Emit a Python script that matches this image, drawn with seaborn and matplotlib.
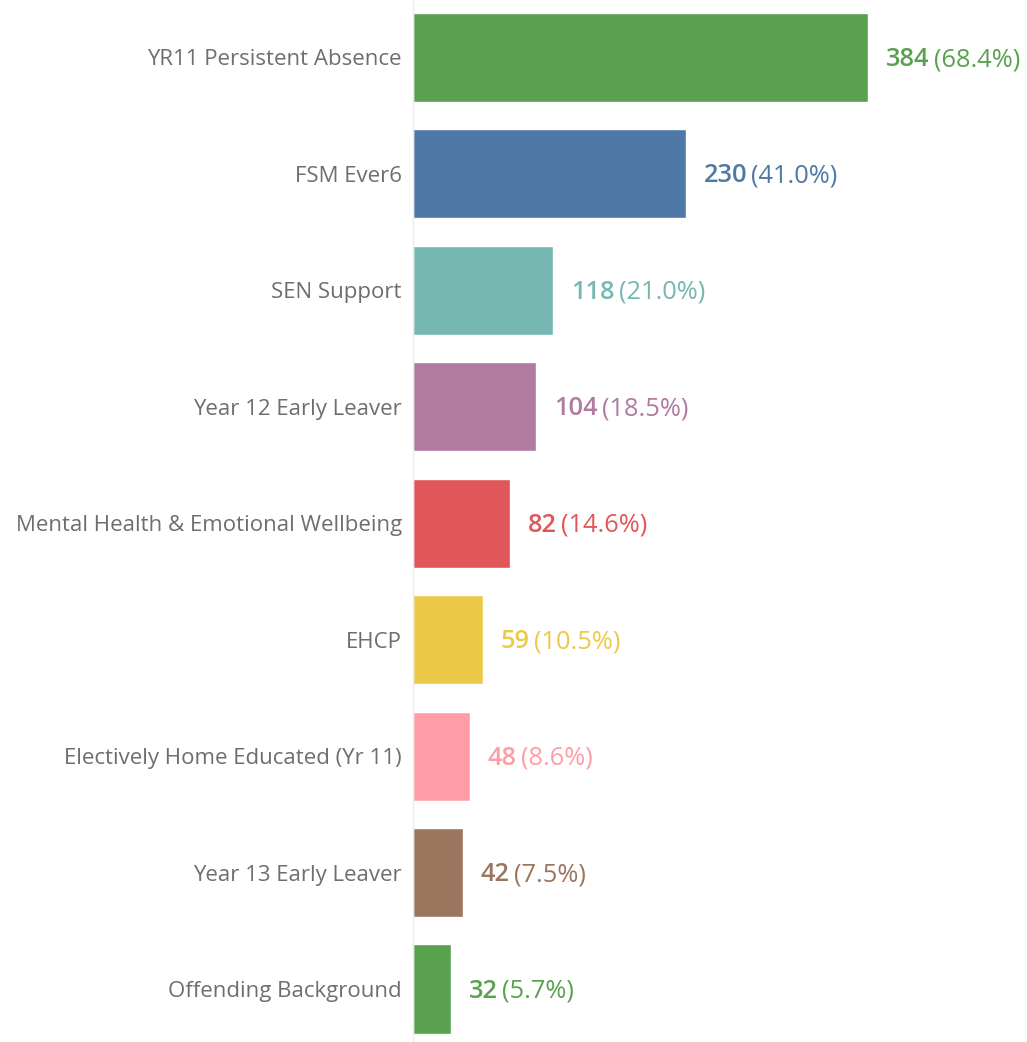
import matplotlib
matplotlib.use('Agg')
import matplotlib.pyplot as plt
import seaborn as sns
import pandas as pd

# values
categories = ['YR11 Persistent Absence', 'FSM Ever6', 'SEN Support',
              'Year 12 Early Leaver', 'Mental Health & Emotional Wellbeing',
              'EHCP', 'Electively Home Educated (Yr 11)',
              'Year 13 Early Leaver', 'Offending Background']
counts = [384, 230, 118, 104, 82, 59, 48, 42, 32]
pcts = [68.4, 41.0, 21.0, 18.5, 14.6, 10.5, 8.6, 7.5, 5.7]
colors = ['#59A14F', '#4E79A7', '#76B7B2', '#B07AA1', '#E15759',
          '#EDC948', '#FF9DA7', '#9C755F', '#59A14F']

df = pd.DataFrame({'category': categories, 'count': counts})

sns.set_style('white')
plt.rcParams['font.family'] = ['Open Sans', 'DejaVu Sans']

fig = plt.figure(figsize=(10.27, 10.42), dpi=100)
ax = fig.add_axes([413 / 1027, -0.005, 1 - 413 / 1027, 1048 / 1042])

sns.barplot(data=df, x='count', y='category', hue='category',
            palette=colors, legend=False, orient='h', width=0.765,
            saturation=1, ax=ax)

ax.set_xlim(0, 518)
ax.set_ylim(8.5, -0.5)
ax.set_xlabel('')
ax.set_ylabel('')
ax.set_xticks([])
ax.tick_params(axis='y', length=0, pad=8, labelsize=16, labelcolor='#6e6e6e')
for side in ['top', 'right', 'bottom']:
    ax.spines[side].set_visible(False)
ax.spines['left'].set_color('#ebebeb')
ax.spines['left'].set_linewidth(1)

for i, (n, p, c) in enumerate(zip(counts, pcts, colors)):
    t = ax.annotate(str(n), xy=(n, i), xytext=(13, -1.5), textcoords='offset points',
                    va='center', ha='left', fontsize=18.3, fontweight='semibold', color=c)
    ax.annotate('({:.1f}%)'.format(p), xy=(1, 0.5), xycoords=t,
                xytext=(3, 0), textcoords='offset points',
                va='center', ha='left', fontsize=18.3, color=c)

plt.savefig('out.png', dpi=100)
